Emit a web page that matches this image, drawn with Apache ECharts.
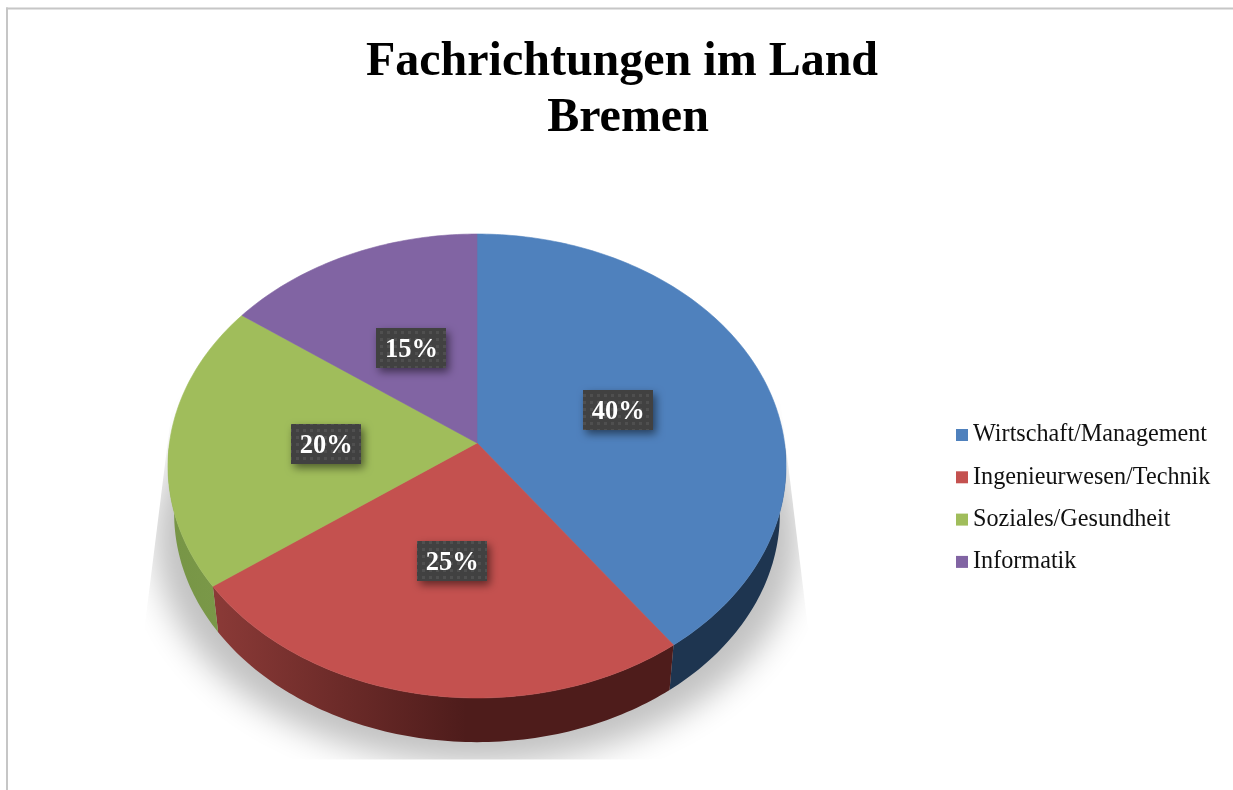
<!DOCTYPE html>
<html>
<head>
<meta charset="utf-8">
<title>Fachrichtungen im Land Bremen</title>
<style>
    html, body { margin: 0; padding: 0; background: #fff; }
    #chart { width: 1233px; height: 790px; }
</style>
<script src="https://cdn.jsdelivr.net/npm/echarts@6/dist/echarts.min.js"></script>
</head>
<body>
<div id="chart"></div>
<script>
var chartTitle = 'Fachrichtungen im Land \nBremen';
var categories = ['Wirtschaft/Management', 'Ingenieurwesen/Technik', 'Soziales/Gesundheit', 'Informatik'];
var shares = [40, 25, 20, 15];

var topColors = ['#4f81bd', '#c4514f', '#a0bd5b', '#8164a3'];
var sideColors = [
    [[0, '#1e3550'], [1, '#1e3550']],
    [[0, '#8b3a37'], [0.55, '#4e1c1b'], [1, '#4e1c1b']],
    [[0, '#779546'], [1, '#7a9848']],
    [[0, '#4c3b61'], [1, '#4c3b61']]
];

// Perspective of the tilted disc: rim points are projected around the apex
var APEX_X = 477, APEX_Y = 443;
var DISC_A = 307.5, DISC_B = 229.7, TILT = -0.0991;
var DEPTH = 48, BOTTOM_SCALE_X = 0.98, BOTTOM_SCALE_Y = 0.985;
var LABEL_R = 0.49;
var total = 0;
for (var t = 0; t < shares.length; t++) {
    total += shares[t];
}

function project(deg, r, isBottom) {
    var a = deg * Math.PI / 180;
    var u = Math.sin(a) * r, v = -Math.cos(a) * r;
    var w = 1 + TILT * v;
    var x = u * DISC_A / w, y = v * DISC_B / w;
    if (isBottom) {
        return [APEX_X + x * BOTTOM_SCALE_X, APEX_Y + y * BOTTOM_SCALE_Y + DEPTH];
    }
    return [APEX_X + x, APEX_Y + y];
}

function startAngle(index) {
    var sum = 0;
    for (var i = 0; i < index; i++) {
        sum += shares[i];
    }
    return sum / total * 360;
}

function arcPoints(from, to, isBottom) {
    var points = [];
    var steps = Math.max(2, Math.ceil(Math.abs(to - from)));
    for (var i = 0; i <= steps; i++) {
        points.push(project(from + (to - from) * i / steps, 1, isBottom));
    }
    return points;
}

function makeDotTile() {
    var tile = document.createElement('canvas');
    tile.width = 7;
    tile.height = 7;
    var ctx = tile.getContext('2d');
    ctx.fillStyle = '#414141';
    ctx.fillRect(0, 0, 7, 7);
    ctx.fillStyle = '#4f4f4f';
    ctx.fillRect(2, 2, 3, 3);
    return tile;
}
var dotTile = makeDotTile();

function renderSlice(index) {
    return function (params, api) {
        var share = api.value(0);
        var from = startAngle(index);
        var to = from + share / total * 360;
        var children = [];

        // visible wall, only the front half of the rim
        var sideFrom = Math.max(from, 90), sideTo = Math.min(to, 270);
        if (sideTo > sideFrom) {
            var side = arcPoints(sideFrom, sideTo, false).concat(arcPoints(sideTo, sideFrom, true));
            children.push({
                type: 'polygon',
                z2: 2,
                shape: { points: side },
                style: { fill: new echarts.graphic.LinearGradient(0, 0, 1, 0, sideColors[index].map(function (s) {
                    return { offset: s[0], color: s[1] };
                })) }
            });
        }

        var top = [project(0, 0, false)].concat(arcPoints(from, to, false));
        children.push({
            type: 'polygon',
            z2: 5,
            shape: { points: top },
            style: { fill: topColors[index], stroke: topColors[index], lineWidth: 0.6 }
        });

        var mid = project((from + to) / 2, LABEL_R, false);
        var boxY = Math.round(mid[1]) + 1;
        children.push({
            type: 'rect',
            z2: 8,
            shape: { x: Math.round(mid[0]) - 35, y: boxY - 20, width: 70, height: 40 },
            style: {
                fill: { image: dotTile, repeat: 'repeat' },
                shadowColor: 'rgba(0,0,0,0.5)',
                shadowBlur: 8,
                shadowOffsetX: 3,
                shadowOffsetY: 4
            }
        });
        children.push({
            type: 'text',
            z2: 9,
            style: {
                x: mid[0],
                y: boxY + 2,
                text: share + '%',
                fill: '#fff',
                align: 'center',
                verticalAlign: 'middle',
                font: 'bold 26.5px "Liberation Serif"'
            }
        });
        return { type: 'group', children: children };
    };
}

// soft floor shadow, the blur comes from a shape parked off canvas
function renderFloorShadow() {
    var points = [];
    var OFF = 3000;
    for (var d = 0; d < 360; d += 2) {
        var a = d * Math.PI / 180;
        points.push([477 - OFF + Math.sin(a) * 322, 538 + -Math.cos(a) * 226]);
    }
    var white = '#fff';
    return {
        type: 'group',
        children: [
            {
                type: 'polygon',
                z2: 0,
                shape: { points: points },
                style: {
                    fill: '#000',
                    shadowColor: '#c2c2c2',
                    shadowBlur: 32,
                    shadowOffsetX: OFF
                }
            },
            // the shadow is cut by the plot box on the sides and below
            { type: 'polygon', z2: 1, shape: { points: [[0, 200], [198, 200], [128, 760], [0, 760]] }, style: { fill: white } },
            { type: 'polygon', z2: 1, shape: { points: [[1233, 200], [756, 200], [824, 760], [1233, 760]] }, style: { fill: white } },
            { type: 'rect', z2: 1, shape: { x: 0, y: 759.5, width: 1233, height: 40 }, style: { fill: white } }
        ]
    };
}

var series = [{
    type: 'custom',
    name: 'floor',
    coordinateSystem: 'none',
    silent: true,
    data: [0],
    renderItem: renderFloorShadow
}];
for (var i = 0; i < categories.length; i++) {
    series.push({
        type: 'custom',
        name: categories[i],
        coordinateSystem: 'none',
        silent: true,
        itemStyle: { color: topColors[i] },
        data: [shares[i]],
        renderItem: renderSlice(i)
    });
}

var myChart = echarts.init(document.getElementById('chart'));
myChart.setOption({
    backgroundColor: '#fff',
    animation: false,
    title: {
        text: chartTitle,
        left: 623,
        top: 30,
        textAlign: 'center',
        textStyle: {
            fontFamily: 'Liberation Serif',
            fontWeight: 'bold',
            fontSize: 48,
            lineHeight: 56,
            color: '#000'
        }
    },
    legend: {
        data: categories,
        orient: 'vertical',
        left: 956,
        top: 423,
        padding: 0,
        icon: 'rect',
        itemWidth: 12,
        itemHeight: 12,
        itemGap: 18.3,
        selectedMode: false,
        textStyle: {
            fontFamily: 'Liberation Serif',
            fontSize: 24.2,
            lineHeight: 24,
            color: '#111',
            padding: [0, 0, 0, 0]
        }
    },
    graphic: [
        { type: 'rect', z: 20, shape: { x: 6, y: 7.5, width: 1227, height: 2 }, style: { fill: '#c6c6c6' } },
        { type: 'rect', z: 20, shape: { x: 6, y: 7.5, width: 2, height: 783 }, style: { fill: '#c6c6c6' } }
    ],
    series: series
});
</script>
</body>
</html>
